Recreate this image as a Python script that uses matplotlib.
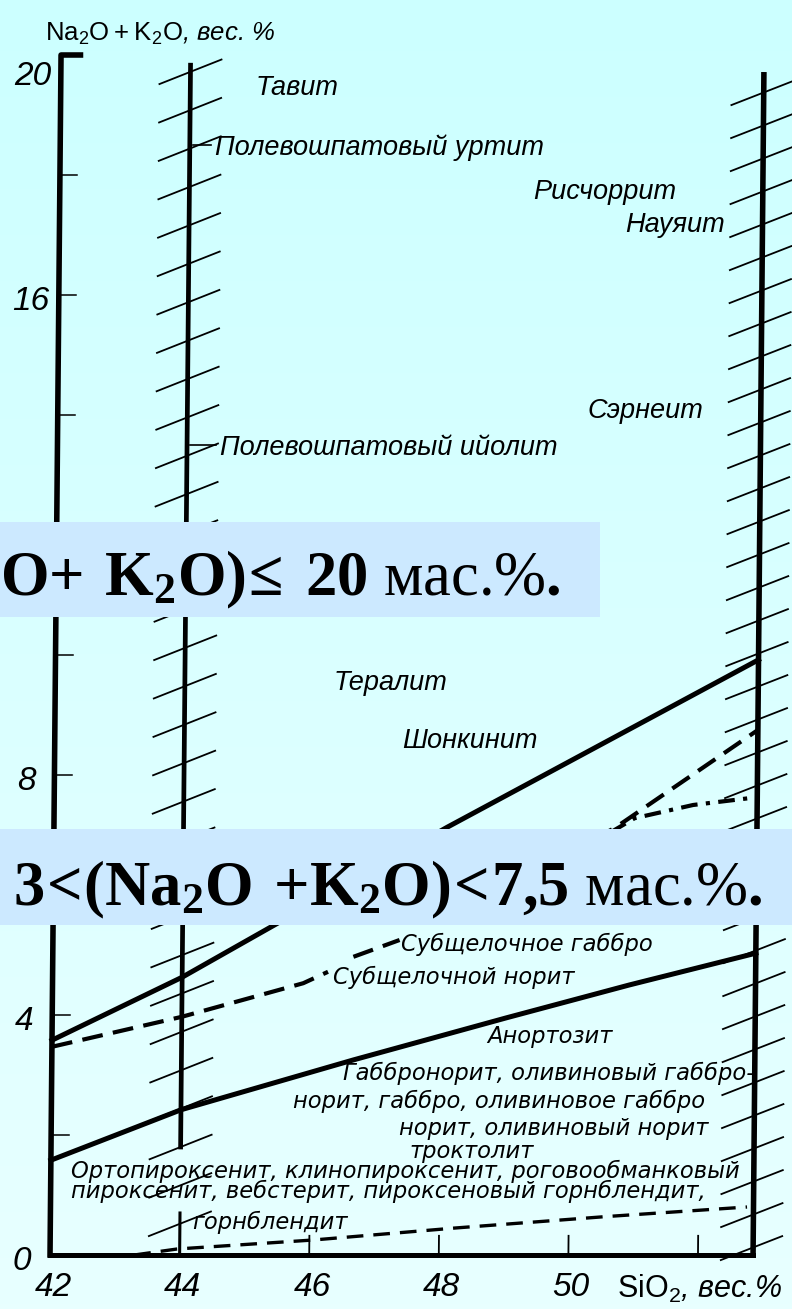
import numpy as np
import matplotlib
matplotlib.use('Agg')
import matplotlib.pyplot as plt
from matplotlib import font_manager
from matplotlib.transforms import Affine2D
from matplotlib.collections import LineCollection
from matplotlib.patches import Rectangle

# значения сняты со скана (SiO2, вес.% / Na2O+K2O, вес.%)
y_tick_vals = [0, 4, 8, 12, 16, 20]
y_tick_labels = ['0', '4', '8', '', '16', '20']   # "12" закрыто плашкой
y_minor_vals = [2, 6, 10, 14, 18]
x_tick_vals = [42, 44, 46, 48, 50]
x_mark_vals = [46, 48, 50, 52]

upper_x = [42, 44, 48.07, 52.85]
upper_y = [3.58, 4.63, 7.13, 9.92]

lower_x = [42, 44, 46.65, 49.0, 50.9, 52.85]
lower_y = [1.58, 2.42, 3.25, 3.95, 4.5, 5.03]

norite_x = [42, 44, 45.87, 46.25]
norite_y = [3.47, 3.97, 4.53, 4.72]
gabbro_x = [46.64, 47.35]
gabbro_y = [4.97, 5.25]
subalk_x = [48.2, 50.66, 52.85]
subalk_y = [5.73, 7.12, 8.75]

dashdot_x = [50.6, 50.96, 51.86, 52.85]
dashdot_y = [7.05, 7.28, 7.5, 7.63]

bottom_x = [43.3, 43.96, 46.06, 48.25, 50.57, 52.75]
bottom_y = [0.0, 0.1, 0.25, 0.45, 0.64, 0.8]

names_big = ['Тавит', 'Полевошпатовый уртит', 'Рисчоррит', 'Науяит', 'Сэрнеит',
             'Полевошпатовый ийолит', 'Тералит', 'Шонкинит']
names_big_x = [45.0, 44.39, 49.30, 50.73, 50.18, 44.51, 46.30, 47.36]
names_big_y = [19.5, 18.5, 17.77, 17.22, 14.12, 13.5, 9.58, 8.62]

names_small = ['Субщелочное габбро', 'Субщелочной норит', 'Анортозит',
               'Габбронорит, оливиновый габбро-', 'норит, габбро, оливиновое габбро',
               'норит, оливиновый норит', 'троктолит',
               'Ортопироксенит, клинопироксенит, роговообманковый',
               'пироксенит, вебстерит, пироксеновый горнблендит,', 'горнблендит']
names_small_x = [47.37, 46.33, 48.71, 46.50, 45.73, 47.37, 47.53, 42.31, 42.32, 44.19]
names_small_y = [5.22, 4.67, 3.68, 3.07, 2.6, 2.15, 1.76, 1.43, 1.11, 0.58]

box1_text = r'$\mathbf{(Na_2O{+}\ K_2O)\!\leq\!\ 20}$ мас.%$\mathbf{.}$'
box2_text = r'$\mathbf{3\!<\!(Na_2O\ {+}K_2O)\!<\!7{,}5}$ мас.%$\mathbf{.}$'

# шрифты
installed = {f.name for f in font_manager.fontManager.ttflist}
narrow = 'Liberation Sans Narrow' if 'Liberation Sans Narrow' in installed else 'Liberation Sans'
plt.rcParams['mathtext.fontset'] = 'custom'
plt.rcParams['mathtext.rm'] = 'Liberation Serif'
plt.rcParams['mathtext.bf'] = 'Liberation Serif:bold'
plt.rcParams['mathtext.sf'] = narrow

fig = plt.figure(figsize=(7.92, 13.09), dpi=100)
ax = fig.add_axes([0, 0, 1, 1])
ax.axis('off')

# фон - голубой градиент
top_c = np.array([0.80, 1.0, 1.0])
bot_c = np.array([0.91, 1.0, 1.0])
t = np.linspace(0, 1, 256)[:, None, None]
grad = top_c + (bot_c - top_c) * t
ax.imshow(grad, extent=[0, 1, 0, 1], transform=ax.transAxes, aspect='auto', zorder=0)

ax.set_xlim(41.228, 53.451)
ax.set_ylim(-0.9, 1255 / 60)

# скан немного перекошен
k = 0.0085
tr = Affine2D.from_values(1, 0, k, 1, 0, 0) + ax.transData

# оси и вертикальные линии
ax.plot([42.3, 42, 42], [20, 20, 0], color='k', lw=4, transform=tr, zorder=3)
ax.plot([42, 52.85], [0, 0], color='k', lw=3.6, transform=tr, zorder=3)
ax.plot([44, 44], [1.8, 19.83], color='k', lw=3.4, transform=tr, zorder=3)
ax.plot([52.85, 52.85], [0, 19.67], color='k', lw=4, transform=tr, zorder=3)
ax.plot([44, 44], [0, 0.7], color='k', lw=2.2, transform=tr, zorder=3)

for v in y_tick_vals[1:-1] + y_minor_vals:
    ax.plot([42, 42.27], [v, v], color='k', lw=1.1, transform=tr, zorder=3)
for s in x_mark_vals:
    ax.plot([s, s], [0, 0.32], color='k', lw=1.3, transform=tr, zorder=3)

# штриховка
segs = [[(44 - 0.49, c - 0.21), (44 + 0.49, c + 0.21)] for c in np.arange(19.72, 0.3, -0.64)]
ax.add_collection(LineCollection(segs, colors='k', linewidths=1.3, transform=tr, zorder=3))
segs = [[(52.85 - 0.51, c - 0.22), (52.85 + 0.46, c + 0.19)] for c in np.arange(19.38, 0.1, -0.55)]
ax.add_collection(LineCollection(segs, colors='k', linewidths=1.3, transform=tr, zorder=3))

# границы полей
ax.plot(upper_x, upper_y, color='k', lw=3.6, transform=tr, zorder=3)
ax.plot(lower_x, lower_y, color='k', lw=3.6, transform=tr, zorder=3)
for xs, ys in [(norite_x, norite_y), (gabbro_x, gabbro_y), (subalk_x, subalk_y)]:
    ax.plot(xs, ys, color='k', lw=3, dashes=(5, 2.5), transform=tr, zorder=3)
ax.plot(dashdot_x, dashdot_y, color='k', lw=3, dashes=(4, 2, 1, 2), transform=tr, zorder=3)
ax.plot(bottom_x, bottom_y, color='k', lw=2.4, dashes=(5, 3), transform=tr, zorder=3)

# выноски
ax.plot([44.05, 44.33], [18.5, 18.5], color='k', lw=1.2, transform=tr, zorder=3)
ax.plot([44.05, 44.45], [13.5, 13.5], color='k', lw=1.2, transform=tr, zorder=3)

# подписи пород
for name, x, y in zip(names_big, names_big_x, names_big_y):
    ax.text(x, y, name, transform=tr, fontsize=19.5, style='italic',
            family=['Liberation Sans', 'DejaVu Sans'], ha='left', va='center_baseline', zorder=4)
for name, x, y in zip(names_small, names_small_x, names_small_y):
    ax.text(x, y, name, transform=tr, fontsize=16.3, style='italic',
            family='DejaVu Sans', ha='left', va='center_baseline', zorder=4)

# подписи делений
for v, lab in zip(y_tick_vals, y_tick_labels):
    if lab:
        ax.text(41.57, min(v, 19.75) - 0.05, lab, transform=tr, fontsize=24, style='italic',
                family=[narrow, 'DejaVu Sans'], ha='center', va='center_baseline', zorder=4)
for s in x_tick_vals:
    ax.text(s + 0.05, -0.48, str(s), transform=tr, fontsize=24, style='italic',
            family=[narrow, 'DejaVu Sans'], ha='center', va='center_baseline', zorder=4)

ax.text(50.75, -0.5, r'$\mathsf{SiO_2}$, вес.%', transform=tr, fontsize=22, style='italic',
        family=[narrow, 'DejaVu Sans'], ha='left', va='center_baseline', zorder=4)
ax.text(41.75, 20.4, r'$\mathsf{Na_2O + K_2O}$, вес. %', transform=tr, fontsize=18.5, style='italic',
        family=[narrow, 'DejaVu Sans'], ha='left', va='center_baseline', zorder=4)

# плашки с условиями
box_c = '#cce9ff'
ax.add_patch(Rectangle((0, 1 - 617 / 1309), 600 / 792, 95 / 1309, transform=ax.transAxes,
                       facecolor=box_c, edgecolor='none', zorder=5))
ax.add_patch(Rectangle((0, 1 - 925 / 1309), 1, 96 / 1309, transform=ax.transAxes,
                       facecolor=box_c, edgecolor='none', zorder=5))
ax.text(561 / 792, 1 - 595 / 1309, box1_text, transform=ax.transAxes, fontsize=45,
        family='Liberation Serif', ha='right', va='baseline', zorder=6)
ax.text(13 / 792, 1 - 905 / 1309, box2_text, transform=ax.transAxes, fontsize=45,
        family='Liberation Serif', ha='left', va='baseline', zorder=6)

fig.savefig('out.png', dpi=100)
